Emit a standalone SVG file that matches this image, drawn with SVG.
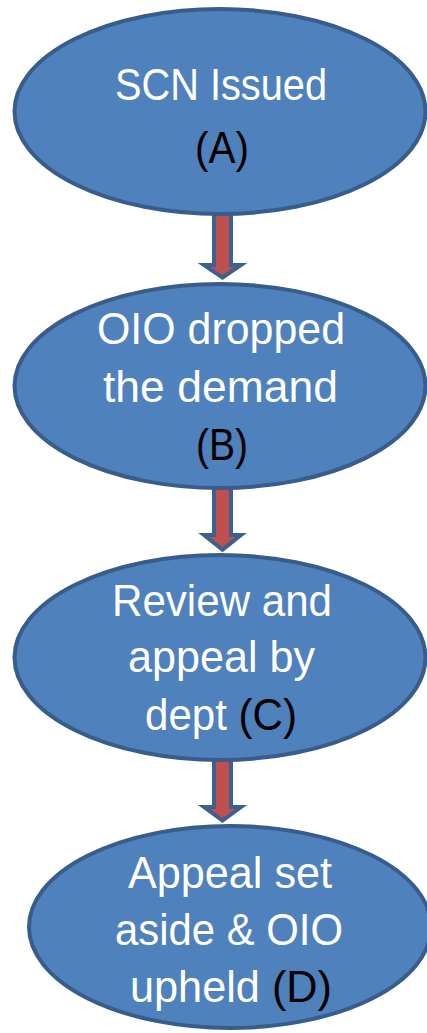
<svg xmlns="http://www.w3.org/2000/svg" width="427" height="1033" viewBox="0 0 427 1033">
<style>
.node{fill:#4F81BD;stroke:#385D8A;stroke-width:4}
.arrow{fill:#C0504D;stroke:#3C6090;stroke-width:4;stroke-linejoin:miter}
.t{font-family:"Liberation Sans",Arial,sans-serif;font-size:44px;fill:#FFFFFF;text-anchor:middle}
.k{fill:#000000}
</style>
<rect width="427" height="1033" fill="#FFFFFF"/>
<g id="connectors">
<polygon class="arrow" points="214,205 231,205 231,265 241,265 222.5,277.6 204,265 214,265"/>
<polygon class="arrow" points="214,480 231,480 231,535 241,535 222.5,549.6 204,535 214,535"/>
<polygon class="arrow" points="214,750 231,750 231,807 241,807 222.5,820.6 204,807 214,807"/>
</g>
<g id="nodeA">
<ellipse class="node" cx="220" cy="111.5" rx="205.5" ry="102.5"/>
<text class="t" x="221" y="100" textLength="212" lengthAdjust="spacingAndGlyphs">SCN Issued</text>
<text class="t k" x="222" y="163" textLength="54" lengthAdjust="spacingAndGlyphs">(A)</text>
</g>
<g id="nodeB">
<ellipse class="node" cx="220" cy="386" rx="205.5" ry="102"/>
<text class="t" x="221" y="344" textLength="248" lengthAdjust="spacingAndGlyphs">OIO dropped</text>
<text class="t" x="220.5" y="402" textLength="235" lengthAdjust="spacingAndGlyphs">the demand</text>
<text class="t k" x="222" y="460" textLength="52" lengthAdjust="spacingAndGlyphs">(B)</text>
</g>
<g id="nodeC">
<ellipse class="node" cx="220" cy="657.5" rx="205.5" ry="102.5"/>
<text class="t" x="222" y="616" textLength="220" lengthAdjust="spacingAndGlyphs">Review and</text>
<text class="t" x="221.5" y="672" textLength="187" lengthAdjust="spacingAndGlyphs">appeal by</text>
<text class="t" x="221" y="730" textLength="152" lengthAdjust="spacingAndGlyphs">dept <tspan class="k">(C)</tspan></text>
</g>
<g id="nodeD">
<ellipse class="node" cx="230" cy="927" rx="201" ry="101"/>
<text class="t" x="230" y="888" textLength="204" lengthAdjust="spacingAndGlyphs">Appeal set</text>
<text class="t" x="229" y="945" textLength="228" lengthAdjust="spacingAndGlyphs">aside &amp; OIO</text>
<text class="t" x="231" y="1002" textLength="202" lengthAdjust="spacingAndGlyphs">upheld <tspan class="k">(D)</tspan></text>
</g>
</svg>
